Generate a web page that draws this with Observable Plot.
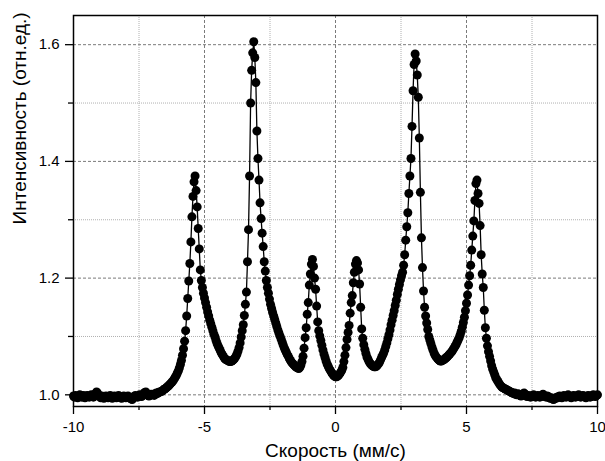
<!DOCTYPE html>
<html><head><meta charset="utf-8">
<script src="https://cdn.jsdelivr.net/npm/d3@7"></script>
<script src="https://cdn.jsdelivr.net/npm/@observablehq/plot@0.6"></script>
<style>body{margin:0;background:#fff} svg{display:block}</style>
</head><body><div id="chart"></div>
<script>
const xLabel = "Скорость (мм/с)";
const yLabel = "Интенсивность (отн.ед.)";
const xMajor = [-10, -5, 0, 5, 10];
const xMinor = [-7.5, -2.5, 2.5, 7.5];
const yMajor = [1.0, 1.2, 1.4, 1.6];
const yMinor = [1.1, 1.3, 1.5];

// [velocity (mm/s), intensity (rel. units)]
const spectrum = [
[-10.00,0.998],[-9.96,0.996],[-9.92,0.999],[-9.88,0.997],[-9.84,0.995],[-9.80,0.998],[-9.76,1.000],[-9.72,0.997],
[-9.68,0.996],[-9.64,0.999],[-9.60,0.998],[-9.56,0.995],[-9.52,0.997],[-9.48,0.999],[-9.44,0.998],[-9.40,0.996],
[-9.36,0.997],[-9.32,1.000],[-9.28,0.998],[-9.24,0.996],[-9.20,0.999],[-9.16,1.002],[-9.12,1.005],[-9.08,1.003],
[-9.04,0.999],[-9.00,0.997],[-8.96,0.995],[-8.92,0.998],[-8.88,0.997],[-8.84,0.994],[-8.80,0.996],[-8.76,0.998],
[-8.72,0.997],[-8.68,0.995],[-8.64,0.997],[-8.60,0.999],[-8.56,0.996],[-8.52,0.994],[-8.48,0.996],[-8.44,0.998],
[-8.40,0.997],[-8.36,0.995],[-8.32,0.997],[-8.28,0.999],[-8.24,0.997],[-8.20,0.995],[-8.16,0.994],[-8.12,0.996],
[-8.08,0.998],[-8.04,0.997],[-8.00,0.995],[-7.96,0.996],[-7.92,0.998],[-7.88,0.996],[-7.84,0.994],[-7.80,0.993],
[-7.76,0.992],[-7.72,0.995],[-7.68,0.997],[-7.64,0.999],[-7.60,0.997],[-7.56,0.996],[-7.52,0.998],[-7.48,1.000],
[-7.44,0.998],[-7.40,0.997],[-7.36,0.999],[-7.32,1.002],[-7.28,1.004],[-7.24,1.005],[-7.20,1.002],[-7.16,0.999],
[-7.12,0.998],[-7.08,1.000],[-7.04,1.001],[-7.00,1.000],[-6.96,1.001],[-6.92,0.999],[-6.88,1.002],[-6.84,1.003],
[-6.80,1.002],[-6.76,1.004],[-6.72,1.005],[-6.68,1.005],[-6.64,1.006],[-6.60,1.007],[-6.56,1.009],[-6.52,1.010],
[-6.48,1.011],[-6.44,1.013],[-6.40,1.014],[-6.36,1.016],[-6.32,1.018],[-6.28,1.020],[-6.24,1.022],[-6.20,1.024],
[-6.16,1.027],[-6.12,1.030],[-6.08,1.033],[-6.04,1.037],[-6.00,1.041],[-5.96,1.046],[-5.92,1.052],[-5.88,1.059],
[-5.84,1.068],[-5.80,1.079],[-5.76,1.092],[-5.72,1.110],[-5.68,1.135],[-5.64,1.165],[-5.60,1.195],[-5.56,1.225],
[-5.52,1.262],[-5.48,1.305],[-5.44,1.340],[-5.40,1.365],[-5.36,1.375],[-5.32,1.350],[-5.28,1.322],[-5.24,1.285],
[-5.20,1.250],[-5.16,1.214],[-5.12,1.196],[-5.08,1.184],[-5.04,1.174],[-5.00,1.166],[-4.96,1.158],[-4.92,1.150],
[-4.88,1.142],[-4.84,1.135],[-4.80,1.128],[-4.76,1.122],[-4.72,1.116],[-4.68,1.110],[-4.64,1.104],[-4.60,1.099],
[-4.56,1.093],[-4.52,1.088],[-4.48,1.084],[-4.44,1.080],[-4.40,1.076],[-4.36,1.072],[-4.32,1.069],[-4.28,1.066],
[-4.24,1.063],[-4.20,1.061],[-4.16,1.060],[-4.12,1.059],[-4.08,1.058],[-4.04,1.057],[-4.00,1.057],[-3.96,1.058],
[-3.92,1.059],[-3.88,1.061],[-3.84,1.063],[-3.80,1.066],[-3.76,1.070],[-3.72,1.075],[-3.68,1.081],[-3.64,1.089],
[-3.60,1.099],[-3.56,1.110],[-3.52,1.120],[-3.48,1.136],[-3.44,1.155],[-3.40,1.176],[-3.36,1.228],[-3.32,1.283],
[-3.28,1.375],[-3.24,1.500],[-3.20,1.556],[-3.16,1.586],[-3.12,1.605],[-3.08,1.578],[-3.04,1.535],[-3.00,1.452],
[-2.96,1.405],[-2.92,1.368],[-2.88,1.329],[-2.84,1.302],[-2.80,1.277],[-2.76,1.254],[-2.72,1.228],[-2.68,1.212],
[-2.64,1.196],[-2.60,1.184],[-2.56,1.174],[-2.52,1.164],[-2.48,1.155],[-2.44,1.148],[-2.40,1.141],[-2.36,1.135],
[-2.32,1.129],[-2.28,1.123],[-2.24,1.117],[-2.20,1.111],[-2.16,1.106],[-2.12,1.101],[-2.08,1.096],[-2.04,1.091],
[-2.00,1.086],[-1.96,1.081],[-1.92,1.077],[-1.88,1.073],[-1.84,1.069],[-1.80,1.066],[-1.76,1.062],[-1.72,1.059],
[-1.68,1.056],[-1.64,1.054],[-1.60,1.052],[-1.56,1.050],[-1.52,1.048],[-1.48,1.047],[-1.44,1.046],[-1.40,1.045],
[-1.36,1.047],[-1.32,1.051],[-1.28,1.057],[-1.24,1.066],[-1.20,1.080],[-1.16,1.098],[-1.12,1.115],[-1.08,1.138],
[-1.04,1.158],[-1.00,1.188],[-0.96,1.207],[-0.92,1.224],[-0.88,1.232],[-0.84,1.220],[-0.80,1.200],[-0.76,1.181],
[-0.72,1.152],[-0.68,1.125],[-0.64,1.110],[-0.60,1.101],[-0.56,1.093],[-0.52,1.085],[-0.48,1.077],[-0.44,1.070],
[-0.40,1.064],[-0.36,1.058],[-0.32,1.053],[-0.28,1.049],[-0.24,1.045],[-0.20,1.042],[-0.16,1.039],[-0.12,1.036],
[-0.08,1.034],[-0.04,1.032],[0.00,1.031],[0.04,1.031],[0.08,1.032],[0.12,1.034],[0.16,1.036],[0.20,1.039],
[0.24,1.042],[0.28,1.047],[0.32,1.057],[0.36,1.068],[0.40,1.081],[0.44,1.095],[0.48,1.107],[0.52,1.119],
[0.56,1.140],[0.60,1.158],[0.64,1.170],[0.68,1.192],[0.72,1.210],[0.76,1.224],[0.80,1.230],[0.84,1.226],
[0.88,1.214],[0.92,1.190],[0.96,1.150],[1.00,1.113],[1.04,1.097],[1.08,1.086],[1.12,1.078],[1.16,1.071],
[1.20,1.065],[1.24,1.061],[1.28,1.057],[1.32,1.054],[1.36,1.052],[1.40,1.050],[1.44,1.049],[1.48,1.048],
[1.52,1.048],[1.56,1.049],[1.60,1.051],[1.64,1.053],[1.68,1.056],[1.72,1.060],[1.76,1.064],[1.80,1.068],
[1.84,1.072],[1.88,1.077],[1.92,1.083],[1.96,1.089],[2.00,1.096],[2.04,1.103],[2.08,1.111],[2.12,1.120],
[2.16,1.128],[2.20,1.136],[2.24,1.144],[2.28,1.153],[2.32,1.162],[2.36,1.172],[2.40,1.181],[2.44,1.189],
[2.48,1.197],[2.52,1.204],[2.56,1.210],[2.60,1.222],[2.64,1.240],[2.68,1.265],[2.72,1.288],[2.76,1.312],
[2.80,1.345],[2.84,1.375],[2.88,1.405],[2.92,1.460],[2.96,1.521],[3.00,1.566],[3.04,1.584],[3.08,1.572],
[3.12,1.548],[3.16,1.510],[3.20,1.440],[3.24,1.347],[3.28,1.269],[3.32,1.218],[3.36,1.178],[3.40,1.150],
[3.44,1.135],[3.48,1.123],[3.52,1.112],[3.56,1.100],[3.60,1.094],[3.64,1.088],[3.68,1.082],[3.72,1.077],
[3.76,1.072],[3.80,1.068],[3.84,1.065],[3.88,1.063],[3.92,1.061],[3.96,1.059],[4.00,1.058],[4.04,1.058],
[4.08,1.059],[4.12,1.060],[4.16,1.061],[4.20,1.063],[4.24,1.064],[4.28,1.066],[4.32,1.068],[4.36,1.070],
[4.40,1.072],[4.44,1.074],[4.48,1.077],[4.52,1.080],[4.56,1.083],[4.60,1.086],[4.64,1.090],[4.68,1.094],
[4.72,1.098],[4.76,1.103],[4.80,1.109],[4.84,1.116],[4.88,1.124],[4.92,1.133],[4.96,1.144],[5.00,1.157],
[5.04,1.171],[5.08,1.188],[5.12,1.204],[5.16,1.222],[5.20,1.248],[5.24,1.272],[5.28,1.298],[5.32,1.333],
[5.36,1.362],[5.40,1.368],[5.44,1.345],[5.48,1.328],[5.52,1.290],[5.56,1.240],[5.60,1.207],[5.64,1.184],
[5.68,1.145],[5.72,1.115],[5.76,1.097],[5.80,1.084],[5.84,1.074],[5.88,1.066],[5.92,1.058],[5.96,1.050],
[6.00,1.044],[6.04,1.039],[6.08,1.034],[6.12,1.029],[6.16,1.026],[6.20,1.023],[6.24,1.020],[6.28,1.017],
[6.32,1.015],[6.36,1.013],[6.40,1.012],[6.44,1.011],[6.48,1.010],[6.52,1.009],[6.56,1.008],[6.60,1.007],
[6.64,1.006],[6.68,1.005],[6.72,1.004],[6.76,1.003],[6.80,1.002],[6.84,1.003],[6.88,1.001],[6.92,1.000],
[6.96,1.002],[7.00,1.001],[7.04,0.999],[7.08,0.998],[7.12,1.000],[7.16,1.002],[7.20,1.003],[7.24,1.001],
[7.28,0.998],[7.32,0.997],[7.36,0.999],[7.40,0.998],[7.44,0.996],[7.48,0.997],[7.52,0.999],[7.56,1.000],
[7.60,0.998],[7.64,0.996],[7.68,0.997],[7.72,0.999],[7.76,0.998],[7.80,0.996],[7.84,0.997],[7.88,0.999],
[7.92,1.001],[7.96,0.999],[8.00,0.997],[8.04,0.996],[8.08,0.998],[8.12,0.997],[8.16,0.995],[8.20,0.994],
[8.24,0.995],[8.28,0.993],[8.32,0.992],[8.36,0.993],[8.40,0.994],[8.44,0.996],[8.48,0.995],[8.52,0.997],
[8.56,0.998],[8.60,0.996],[8.64,0.995],[8.68,0.997],[8.72,0.999],[8.76,0.997],[8.80,0.996],[8.84,0.998],
[8.88,1.000],[8.92,0.998],[8.96,0.996],[9.00,0.995],[9.04,0.997],[9.08,0.999],[9.12,0.998],[9.16,0.996],
[9.20,0.997],[9.24,0.999],[9.28,1.000],[9.32,0.998],[9.36,0.996],[9.40,0.997],[9.44,0.999],[9.48,0.998],
[9.52,0.996],[9.56,0.995],[9.60,0.997],[9.64,0.999],[9.68,0.998],[9.72,0.996],[9.76,0.997],[9.80,0.999],
[9.84,1.000],[9.88,0.998],[9.92,0.997],[9.96,0.999],[10.00,1.000]
];

const velocity = spectrum.map(p => p[0]);
const intensity = spectrum.map(p => p[1]);
const data = velocity.map((v, k) => ({v, i: intensity[k]}));

const chart = Plot.plot({
  width: 605, height: 461,
  marginLeft: 73, marginRight: 8, marginTop: 15, marginBottom: 55,
  style: {fontFamily: "'Liberation Sans', Arial, sans-serif", background: "#fff", color: "#000", overflow: "visible"},
  x: {domain: [-10, 10]},
  y: {domain: [0.98, 1.65]},
  marks: [
    Plot.ruleX(xMinor, {stroke: "#b0b0b0", strokeDasharray: "1,1"}),
    Plot.ruleY(yMinor, {stroke: "#b0b0b0", strokeDasharray: "1,1"}),
    Plot.ruleX(xMajor, {stroke: "#7a7a7a", strokeDasharray: "3,2"}),
    Plot.ruleY(yMajor, {stroke: "#7a7a7a", strokeDasharray: "3,2"}),
    Plot.line(data, {x: "v", y: "i", stroke: "#000", strokeWidth: 1.3}),
    Plot.dot(data, {x: "v", y: "i", r: 4.5, fill: "#000"}),
    Plot.frame({stroke: "#000", strokeWidth: 1.5}),
    Plot.axisX(xMajor, {tickSize: 8, tickPadding: 7, fontSize: 15, label: null, strokeWidth: 1.3, tickFormat: d => String(d)}),
    Plot.axisX(xMinor, {tickSize: 4, label: null, strokeWidth: 1.3, tickFormat: () => ""}),
    Plot.axisY(yMajor, {tickSize: 8, tickPadding: 6, fontSize: 15, label: null, strokeWidth: 1.3, tickFormat: d3.format(".1f")}),
    Plot.axisY(yMinor, {tickSize: 5, label: null, strokeWidth: 1.3, tickFormat: () => ""}),
    Plot.text([xLabel], {frameAnchor: "bottom", dy: 50, lineAnchor: "bottom", fontSize: 19}),
    Plot.text([yLabel], {frameAnchor: "left", dx: -48, dy: 13.5, rotate: -90, lineAnchor: "bottom", fontSize: 19})
  ]
});
document.getElementById("chart").appendChild(chart);
</script>
</body></html>
